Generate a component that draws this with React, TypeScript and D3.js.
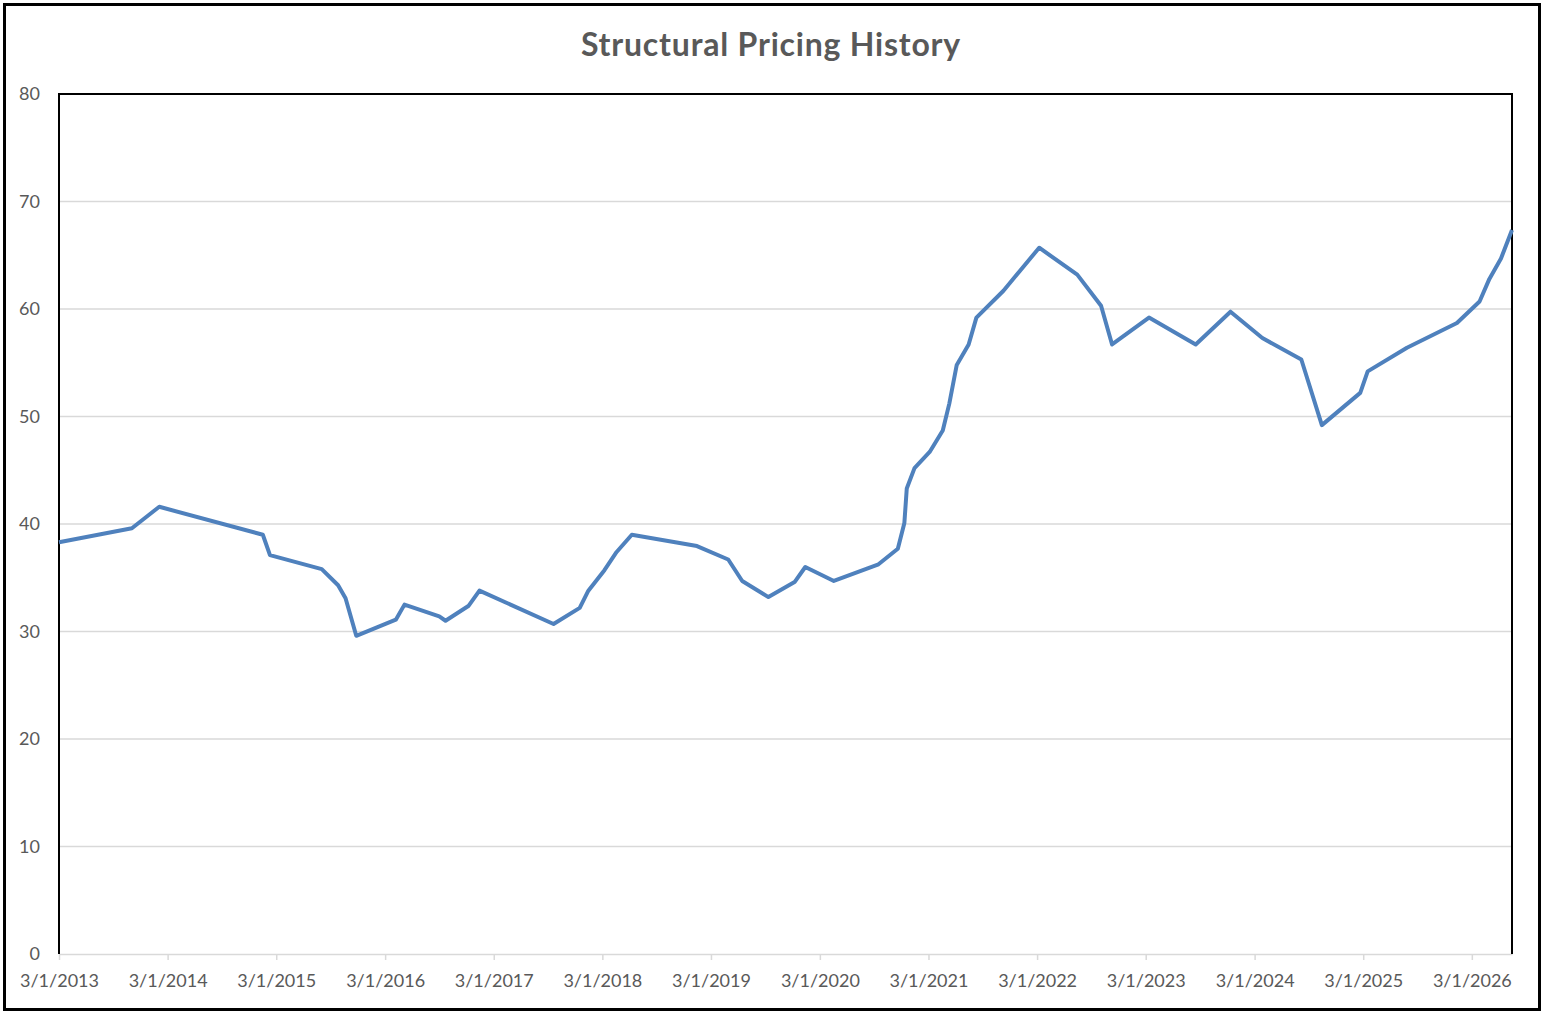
import React, { useEffect, useRef } from "react"
import * as d3 from "d3"

// values
const dates = [
  "2013-03-01", "2013-11-01", "2014-02-01", "2015-01-15", "2015-02-08",
  "2015-08-01", "2015-09-25", "2015-10-20", "2015-11-25", "2016-04-06",
  "2016-05-05", "2016-08-30", "2016-09-20", "2016-12-07", "2017-01-12",
  "2017-09-18", "2017-12-15", "2018-01-13", "2018-03-08", "2018-04-18",
  "2018-06-08", "2019-01-13", "2019-04-28", "2019-06-14", "2019-09-10",
  "2019-12-07", "2020-01-12", "2020-04-17", "2020-09-14", "2020-11-18",
  "2020-12-10", "2020-12-18", "2021-01-13", "2021-03-05", "2021-04-18",
  "2021-05-10", "2021-06-04", "2021-07-14", "2021-08-09", "2021-11-08",
  "2022-03-08", "2022-07-14", "2022-10-02", "2022-11-08", "2023-03-12",
  "2023-08-16", "2023-12-11", "2024-03-27", "2024-08-05", "2024-10-13",
  "2025-02-19", "2025-03-16", "2025-07-26", "2026-01-10", "2026-03-27",
  "2026-04-29", "2026-06-07", "2026-07-14",
]
const prices = [
  38.3, 39.6, 41.6, 39.0, 37.1,
  35.8, 34.3, 33.1, 29.6, 31.1,
  32.5, 31.4, 31.0, 32.4, 33.8,
  30.7, 32.2, 33.8, 35.7, 37.4,
  39.0, 37.95, 36.7, 34.7, 33.2,
  34.6, 36.0, 34.7, 36.25, 37.7,
  40.1, 43.3, 45.2, 46.7, 48.7,
  51.2, 54.8, 56.7, 59.2, 61.7,
  65.7, 63.2, 60.3, 56.7, 59.2,
  56.7, 59.75, 57.3, 55.3, 49.2,
  52.2, 54.2, 56.4, 58.7, 60.7,
  62.8, 64.7, 67.35,
]
const yTicks = [0, 10, 20, 30, 40, 50, 60, 70, 80]
const xTickYears = [2013, 2014, 2015, 2016, 2017, 2018, 2019, 2020, 2021, 2022, 2023, 2024, 2025, 2026]
const title = "Structural Pricing History"

export default function App() {
  const ref = useRef(null)
  useEffect(() => {
    const width = 1545, height = 1015
    const margin = { top: 94, right: 33, bottom: 61, left: 59 }
    const font = "Lato, Carlito, Calibri, sans-serif"
    const textColor = "#595959"

    const svg = d3.select(ref.current)
    svg.selectAll("*").remove()
    svg.attr("width", width).attr("height", height)

    svg.append("rect").attr("width", width).attr("height", height).attr("fill", "#fff")

    const parse = d3.timeParse("%Y-%m-%d")
    const data = dates.map((d, i) => ({ date: parse(d), value: prices[i] }))

    const x = d3.scaleTime()
      .domain([data[0].date, data[data.length - 1].date])
      .range([margin.left, width - margin.right])
    const y = d3.scaleLinear().domain([0, 80]).range([height - margin.bottom, margin.top])

    // gridlines
    svg.append("g")
      .selectAll("line")
      .data(yTicks.filter(t => t > 0 && t < 80))
      .enter()
      .append("line")
      .attr("x1", margin.left).attr("x2", width - margin.right)
      .attr("y1", d => y(d)).attr("y2", d => y(d))
      .attr("stroke", "#d9d9d9").attr("stroke-width", 1.5)

    // x axis (gray line with ticks)
    const xTicks = xTickYears.map(yr => new Date(yr, 2, 1))
    const xAxis = svg.append("g")
      .attr("transform", `translate(0,${y(0)})`)
      .call(d3.axisBottom(x).tickValues(xTicks).tickSize(6).tickSizeOuter(0).tickFormat(d3.timeFormat("%-m/%-d/%Y")))
    xAxis.select(".domain").attr("stroke", "#d9d9d9").attr("stroke-width", 1.5)
    xAxis.selectAll(".tick line").attr("stroke", "#d9d9d9").attr("stroke-width", 1.5)
    xAxis.selectAll(".tick text")
      .attr("fill", textColor).attr("font-family", font).attr("font-size", 18)
      .attr("y", 20).attr("dy", "0.71em")

    // y axis labels
    svg.append("g")
      .selectAll("text")
      .data(yTicks)
      .enter()
      .append("text")
      .attr("x", 40)
      .attr("y", d => y(d))
      .attr("dy", "0.35em")
      .attr("text-anchor", "end")
      .attr("fill", textColor).attr("font-family", font).attr("font-size", 18)
      .text(d => d)

    // plot frame: black on left, top, right
    const x0 = margin.left, x1 = width - margin.right, yTop = margin.top, yBot = y(0)
    svg.append("path")
      .attr("d", `M${x0},${yBot}V${yTop}H${x1}V${yBot}`)
      .attr("fill", "none").attr("stroke", "#000").attr("stroke-width", 2)

    // the series
    const line = d3.line()
      .x(d => x(d.date))
      .y(d => y(d.value))
    svg.append("path")
      .datum(data)
      .attr("d", line)
      .attr("fill", "none")
      .attr("stroke", "#4f81bd")
      .attr("stroke-width", 4)
      .attr("stroke-linejoin", "round")

    svg.append("text")
      .attr("x", 771).attr("y", 56)
      .attr("text-anchor", "middle")
      .attr("font-family", font).attr("font-weight", "bold").attr("font-size", 32)
      .attr("letter-spacing", 0.8)
      .attr("fill", textColor)
      .text(title)

    // outer border
    svg.append("rect")
      .attr("x", 4.5).attr("y", 4.5).attr("width", 1535).attr("height", 1005)
      .attr("fill", "none").attr("stroke", "#000").attr("stroke-width", 3)
  }, [])

  return (
    <div style={{ position: "absolute", left: 0, top: 0 }}>
      <svg ref={ref} style={{ display: "block" }}></svg>
    </div>
  )
}
